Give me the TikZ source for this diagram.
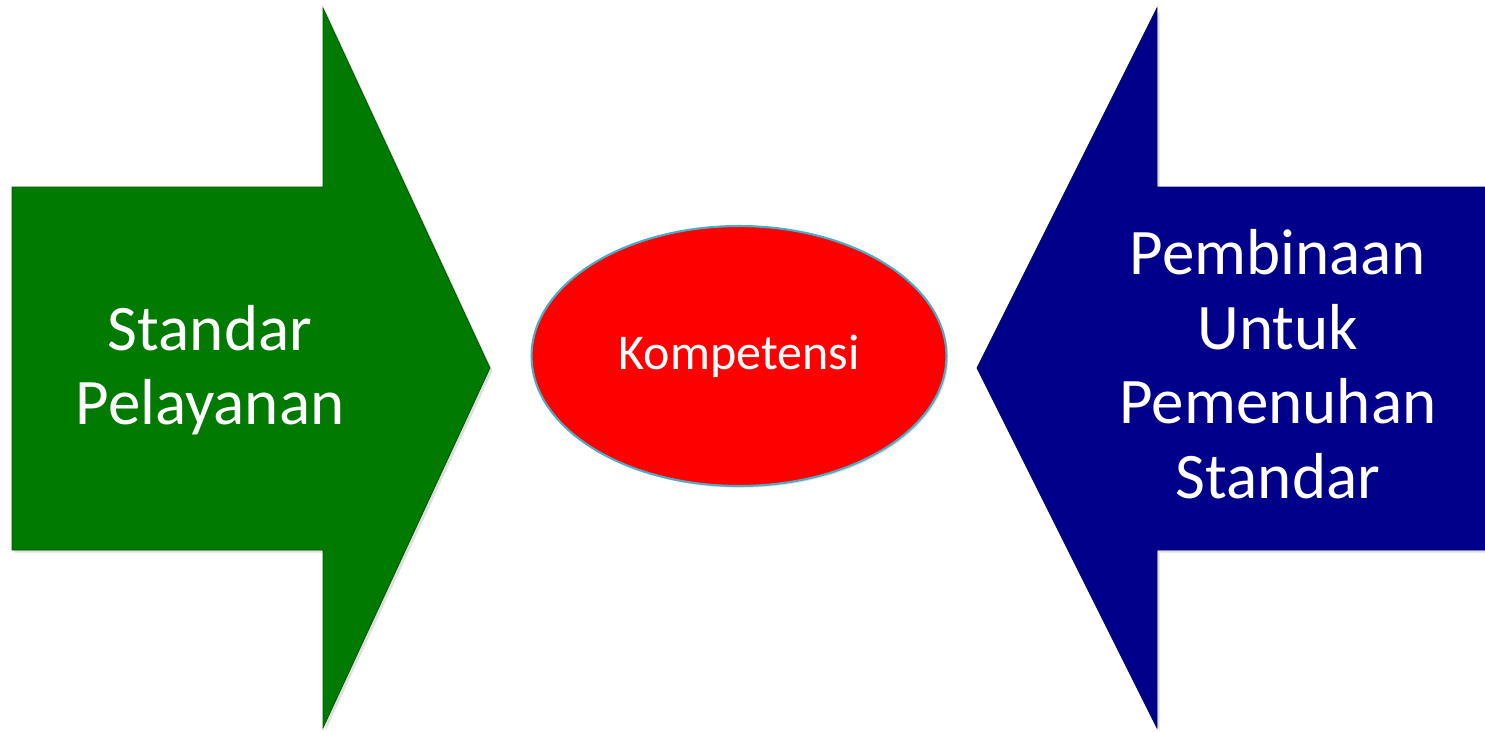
\documentclass[tikz,border=0pt]{standalone}
\usepackage{fontspec}
\setmainfont{Carlito}
\usetikzlibrary{shapes.geometric,shadows}
\definecolor{arrgreen}{HTML}{007A00}
\definecolor{arrblue}{HTML}{00008B}
\definecolor{rimblue}{HTML}{4BACC6}

\begin{document}
\begin{tikzpicture}[
        x=0.02cm, y=-0.02cm,
        greenarr/.style={fill=arrgreen, draw=arrgreen!70!black, line width=0.4pt,
                         drop shadow={shadow xshift=1.5pt, shadow yshift=-1.5pt, opacity=0.25}},
        bluearr/.style={fill=arrblue, draw=arrblue!70!black, line width=0.4pt,
                        drop shadow={shadow xshift=1.5pt, shadow yshift=-1.5pt, opacity=0.25}},
        komp/.style={ellipse, fill=red, draw=rimblue, line width=1.2pt,
                     minimum width=8.3cm, minimum height=5.2cm, inner sep=0pt,
                     text=white, font=\fontsize{28.5}{32}\selectfont,
                     drop shadow={shadow xshift=1pt, shadow yshift=-1pt, opacity=0.25}},
        bigtext/.style={text=white, align=center, inner sep=0pt,
                        font=\fontsize{37}{42.5}\selectfont}
    ]
        \useasboundingbox (0,0) rectangle (1485,731);

        % green arrow pointing right
        \path[greenarr] (12,187) -- (323,187) -- (323,8) -- (490,368)
            -- (323,728) -- (323,550) -- (12,550) -- cycle;
        % blue arrow pointing left
        \path[bluearr] (1485,187) -- (1157,187) -- (1157,8) -- (977,368)
            -- (1157,728) -- (1157,550) -- (1485,550) -- cycle;

        \node[komp] (komp) at (739,356) {Kompetensi};

        \node[bigtext] (std)  at (210,370) {Standar\\Pelayanan};
        \node[bigtext] (pemb) at (1278,364) {Pembinaan\\Untuk\\Pemenuhan\\Standar};
    \end{tikzpicture}
\end{document}
